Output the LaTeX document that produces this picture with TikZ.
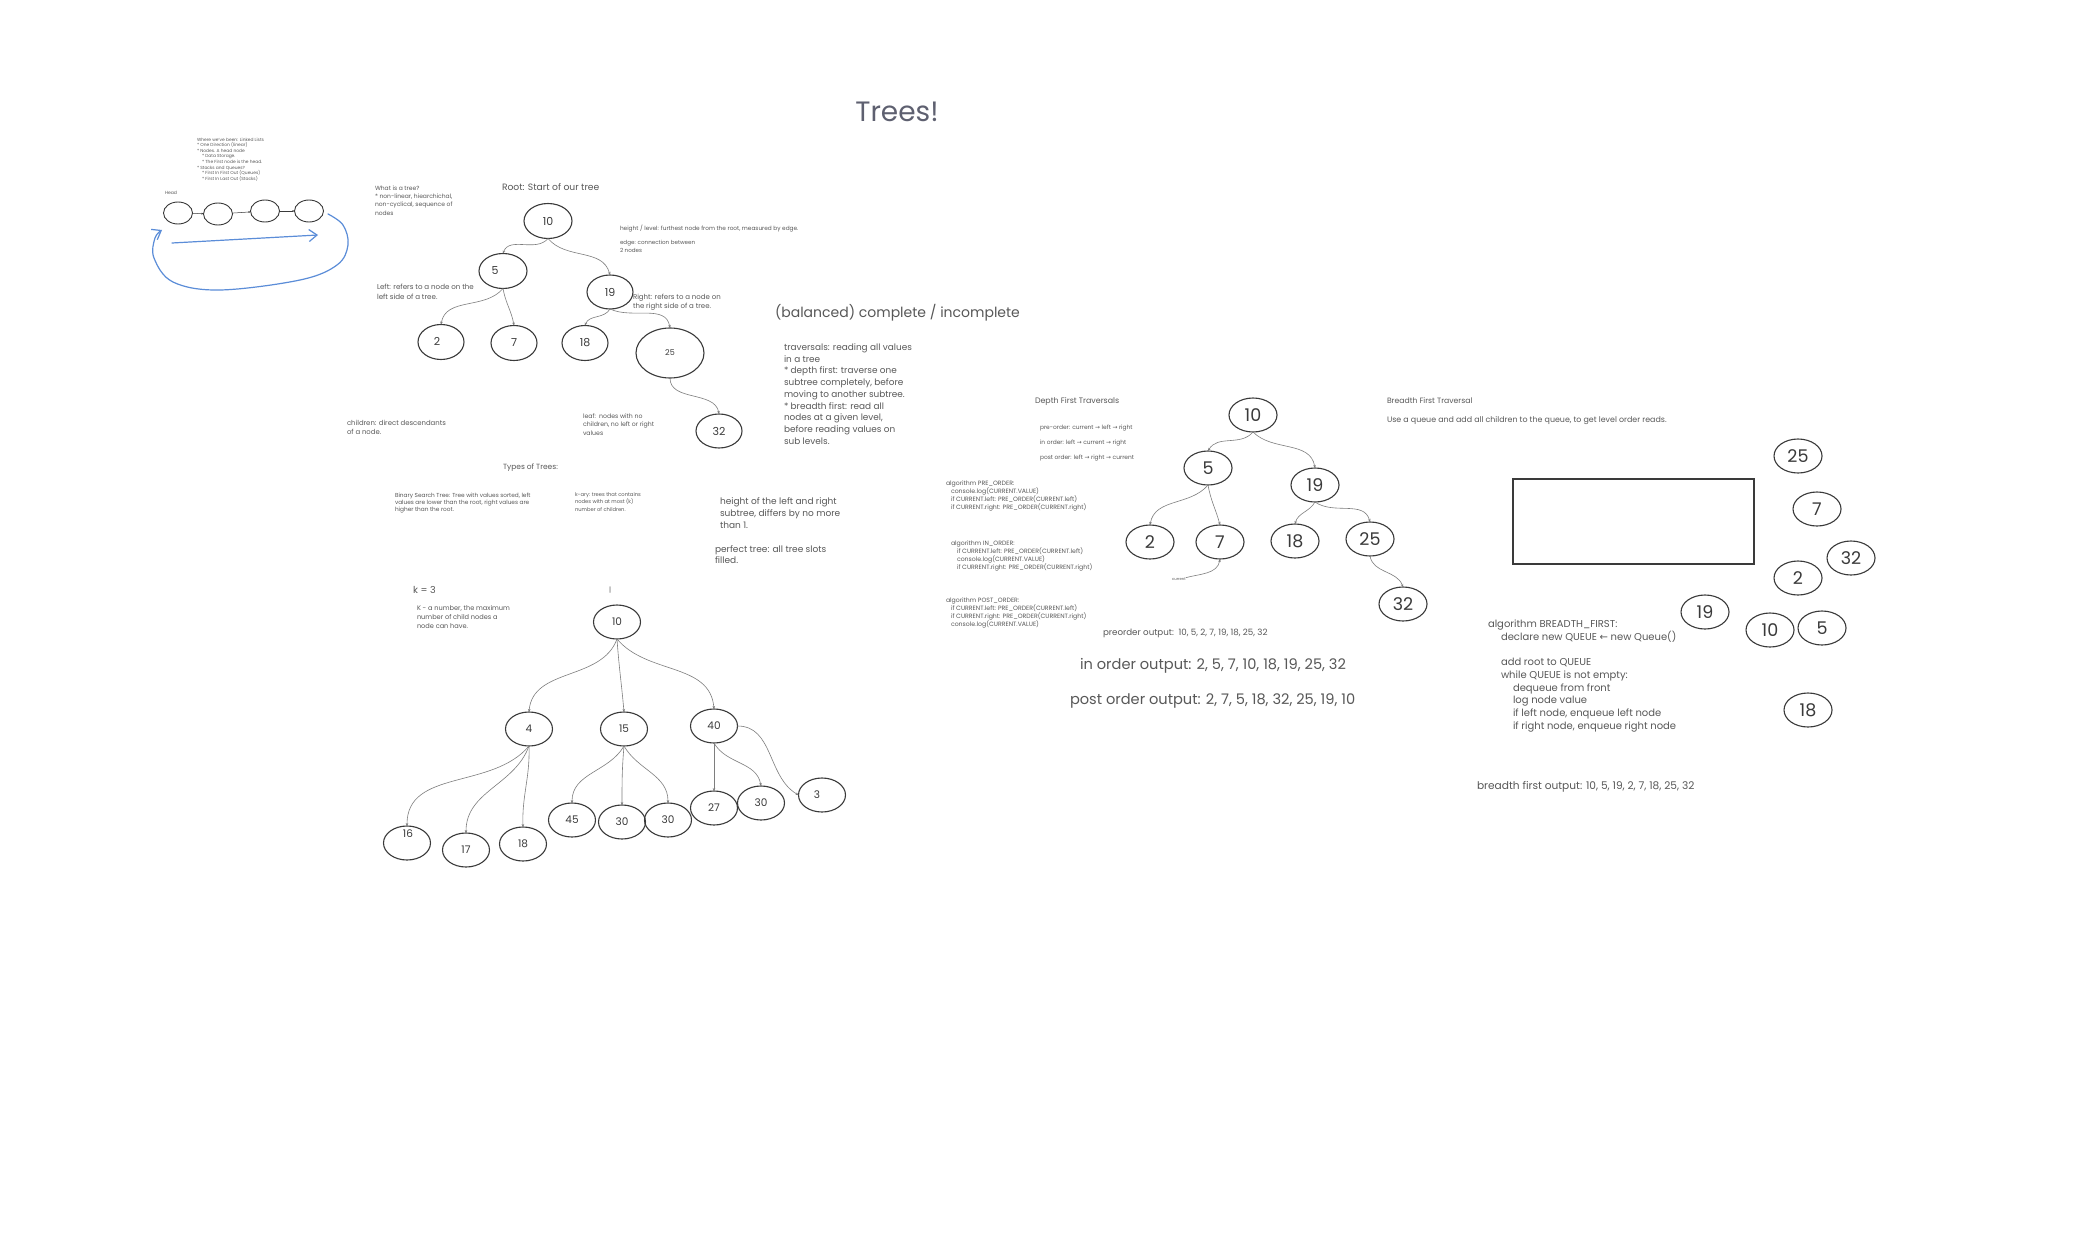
\documentclass[tikz,border=0pt]{standalone}
\usepackage{fontspec}
\setmainfont{Poppins}
\newfontfamily\arrowfont{DejaVu Sans}
\usetikzlibrary{arrows.meta,shapes.geometric}
\definecolor{ink}{HTML}{585858}
\definecolor{headline}{HTML}{5E6070}
\definecolor{rim}{HTML}{3A3A3A}
\definecolor{wire}{HTML}{7E7E7E}
\definecolor{pen}{HTML}{5B8DD8}
\newcommand{\fsz}[2]{\fontsize{#1}{#2}\selectfont}
\newcommand{\ra}{{\arrowfont →}}
\newcommand{\la}{{\arrowfont ←}}
\newcommand{\ind}[1]{\hspace*{#1pt}}
\begin{document}
\begin{tikzpicture}[x=1pt,y=-1pt,
  every node/.style={inner sep=0pt,outer sep=0pt},
  note/.style={anchor=west,align=left,text=ink},
  digit/.style={text=rim},
  bubble/.style={ellipse,draw=rim,line width=1.1pt,minimum width=48pt,minimum height=35pt,text=rim},
  small bubble/.style={bubble,font=\fsz{11}{13}},
  kary bubble/.style={bubble,minimum width=47pt,minimum height=34pt,font=\fsz{10.5}{12}},
  big bubble/.style={bubble,minimum width=48pt,minimum height=34pt,font=\fsz{17.5}{19}},
  cell/.style={ellipse,draw=rim,line width=0.9pt,minimum width=29pt,minimum height=22pt},
  link/.style={draw=rim,line width=0.5pt,-{Latex[length=2pt,width=2pt]}},
  edge/.style={draw=wire,line width=0.6pt,-{Stealth[length=3pt,width=2.6pt]}},
  pen stroke/.style={draw=pen,line width=1.2pt,line cap=round,line join=round,-{Straight Barb[length=8pt,width=12pt]}}
]
\useasboundingbox[fill=white] (0,0) rectangle (2095,1252);

% ---------- title ----------
\node[text=headline,font=\fsz{28}{32}] (title) at (897,112) {Trees!};

% ---------- linked lists recap ----------
\node[note,font=\fsz{4.4}{5.57}] (llnotes) at (197,159.5) {Where we've been: Linked Lists\\* One Direction (linear)\\* Nodes. A head node\\\ind{5}* Data Storage.\\\ind{5}* The First node is the head.\\* Stacks and Queues?\\\ind{5}* First In First Out (Queues)\\\ind{5}* First In Last Out (Stacks)};
\node[note,font=\fsz{4.5}{5.5}] (head) at (165,193) {Head};
\node[cell] (ll1) at (178,213) {};
\node[cell] (ll2) at (218,214) {};
\node[cell] (ll3) at (265,211) {};
\node[cell] (ll4) at (309,211) {};
\draw[link] (ll1) -- (ll2);
\draw[link] (ll2) -- (ll3);
\draw[link] (ll3) -- (ll4);
\coordinate (sweep start) at (172,243);
\coordinate (sweep end) at (318,235);
\draw[pen stroke] (sweep start) -- (sweep end);
\coordinate (loop start) at (328,214);
\coordinate (loop end) at (162,230);
\draw[pen stroke] plot[smooth,tension=0.6] coordinates {(loop start) (343,225) (348,245) (337,265) (300,280) (220,290) (173,282) (154,258) (155,238) (loop end)};

% ---------- first tree ----------
\node[note,font=\fsz{6}{8.3}] (whatis) at (375,200.5) {What is a tree?\\* non-linear, hiearchichal,\\non-cyclical, sequence of\\nodes};
\node[note,font=\fsz{9.2}{10}] (rootlbl) at (502,187) {Root: Start of our tree};
\node[small bubble] (t10) at (548,221) {10};
\node[small bubble] (t5) at (503,271) {};
\node[digit,font=\fsz{11}{13}] (t5txt) at ([xshift=-8pt]t5.center) {5};
\node[small bubble,minimum width=46pt,minimum height=34pt] (t19) at (610,292) {19};
\node[small bubble,minimum width=46pt] (t2) at (441,342) {};
\node[digit,font=\fsz{11}{13}] (t2txt) at ([xshift=-4pt,yshift=1pt]t2.center) {2};
\node[small bubble,minimum width=46pt] (t7) at (514,343) {7};
\node[small bubble,minimum width=46pt] (t18) at (585,343) {18};
\node[bubble,minimum width=68pt,minimum height=50pt,font=\fsz{8}{10}] (t25) at (670,353) {25};
\node[small bubble,minimum width=46pt,minimum height=34pt] (t32) at (719,431) {32};
\draw[edge] (t10.south) to[out=-130,in=70] (t5.north);
\draw[edge] (t10.south) to[out=-50,in=105] (t19.north);
\draw[edge] (t5.south) to[out=-130,in=80] (t2.north);
\draw[edge] (t5.south) to[out=-80,in=100] (t7.north);
\draw[edge] (t19.south) to[out=-120,in=70] (t18.north);
\draw[edge] (t19.south) to[out=-25,in=100] (t25.north);
\draw[edge] (t25.south) to[out=-90,in=100] (t32.north);

\node[note,font=\fsz{5.8}{6}] (heightlbl) at (620,229) {height / level: furthest node from the root, measured by edge.};
\node[note,font=\fsz{5.6}{7.3}] (edgelbl) at (620,246.5) {edge: connection between\\2 nodes};
\node[note,font=\fsz{7.1}{9.5}] (leftlbl) at (377,292) {Left: refers to a node on the\\left side of a tree.};
\node[note,font=\fsz{7}{9}] (rightlbl) at (633,302.5) {Right: refers to a node on\\the right side of a tree.};
\node[note,font=\fsz{6.9}{8.5}] (childlbl) at (347,427.5) {children: direct descendants\\of a node.};
\node[note,font=\fsz{6.2}{8.5}] (leaflbl) at (583,424.5) {leaf:\ \ nodes with no\\children, no left or right\\values};
\node[note,font=\fsz{14}{16}] (balanced) at (775,313) {(balanced) complete / incomplete};
\node[note,font=\fsz{8.9}{11.7}] (travlbl) at (784,394) {traversals: reading all values\\in a tree\\* depth first: traverse one\\subtree completely, before\\moving to another subtree.\\* breadth first: read all\\nodes at a given level,\\before reading values on\\sub levels.};

% ---------- types of trees ----------
\node[note,font=\fsz{7.5}{8}] (typeslbl) at (503,468) {Types of Trees:};
\node[note,font=\fsz{5.8}{7.3}] (bstlbl) at (395,503) {Binary Search Tree: Tree with values sorted, left\\values are lower than the root, right values are\\higher than the root.};
\node[note,font=\fsz{5.2}{7.8}] (karylbl) at (575,502) {k-ary: trees that contains\\nodes with at most (k)\\number of children.};
\node[note,font=\fsz{9}{12}] (heightdiff) at (720,513.5) {height of the left and right\\subtree, differs by no more\\than 1.};
\node[note,font=\fsz{9}{11}] (perfect) at (715,554.5) {perfect tree: all tree slots\\filled.};

% ---------- k-ary tree ----------
\node[note,font=\fsz{9.6}{10}] (klbl) at (413,590) {k = 3};
\node[note,font=\fsz{7}{8}] (cursor) at (609,590) {|};
\node[note,font=\fsz{6.6}{8.7}] (kdef) at (417,617) {K - a number, the maximum\\number of child nodes a\\node can have.};
\node[kary bubble] (k10) at (617,622) {10};
\node[kary bubble] (k4) at (529,729) {4};
\node[kary bubble] (k15) at (624,729) {15};
\node[kary bubble] (k40) at (714,726) {40};
\node[kary bubble] (k16) at (407,843) {};
\node[digit,font=\fsz{10.5}{12}] (k16txt) at ([xshift=1pt,yshift=9pt]k16.center) {16};
\node[kary bubble] (k17) at (466,850) {17};
\node[kary bubble] (k18) at (523,844) {18};
\node[kary bubble] (k45) at (572,820) {45};
\node[kary bubble] (k30a) at (622,822) {30};
\node[kary bubble] (k30b) at (668,820) {30};
\node[kary bubble] (k27) at (714,808) {27};
\node[kary bubble] (k30c) at (761,803) {30};
\node[kary bubble] (k3) at (822,795) {};
\node[digit,font=\fsz{10.5}{12}] (k3txt) at ([xshift=-5pt]k3.center) {3};
\draw[edge] (k10.south) to[out=-110,in=85] (k4.north);
\draw[edge] (k10.south) to[out=-86,in=95] (k15.north);
\draw[edge] (k10.south) to[out=-50,in=95] (k40.north);
\draw[edge] (k4.south) to[out=-130,in=90] (k16.north);
\draw[edge] (k4.south) to[out=-110,in=90] (k17.north);
\draw[edge] (k4.south) to[out=-88,in=92] (k18.north);
\draw[edge] (k15.south) to[out=-120,in=90] (k45.north);
\draw[edge] (k15.south) to[out=-95,in=90] (k30a.north);
\draw[edge] (k15.south) to[out=-60,in=90] (k30b.north);
\draw[edge] (k40.south) to[out=-90,in=90] (k27.north);
\draw[edge] (k40.south) to[out=-60,in=100] (k30c.north);
\draw[edge] (k40.east) to[out=0,in=150] (k3.west);

% ---------- depth first ----------
\node[note,font=\fsz{7.9}{8}] (dftitle) at (1035,402) {Depth First Traversals};
\node[note,font=\fsz{5.9}{15}] (orders) at (1040,443) {pre-order: current \ra{} left \ra{} right\\in order: left \ra{} current \ra{} right\\post order: left \ra{} right \ra{} current};
\node[note,font=\fsz{6.2}{7.8}] (preorder) at (946,496) {algorithm PRE\_ORDER:\\\ind{5}console.log(CURRENT.VALUE)\\\ind{5}if CURRENT.left: PRE\_ORDER(CURRENT.left)\\\ind{5}if CURRENT.right: PRE\_ORDER(CURRENT.right)};
\node[note,font=\fsz{6.2}{7.8}] (inorder) at (951,556) {algorithm IN\_ORDER:\\\ind{6}if CURRENT.left: PRE\_ORDER(CURRENT.left)\\\ind{6}console.log(CURRENT.VALUE)\\\ind{6}if CURRENT.right: PRE\_ORDER(CURRENT.right)};
\node[note,font=\fsz{6.2}{7.7}] (postorder) at (946,613) {algorithm POST\_ORDER:\\\ind{5}if CURRENT.left: PRE\_ORDER(CURRENT.left)\\\ind{5}if CURRENT.right: PRE\_ORDER(CURRENT.right)\\\ind{5}console.log(CURRENT.VALUE)};
\node[note,font=\fsz{8.7}{9}] (preout) at (1103,633) {preorder output:\ \ 10, 5, 2, 7, 19, 18, 25, 32};
\node[note,font=\fsz{14.6}{16}] (inout) at (1080,666) {in order output: 2, 5, 7, 10, 18, 19, 25, 32};
\node[note,font=\fsz{14.6}{16}] (postout) at (1070,701) {post order output: 2, 7, 5, 18, 32, 25, 19, 10};

\node[big bubble] (d10) at (1253,415) {10};
\node[big bubble] (d5) at (1208,468) {5};
\node[big bubble] (d19) at (1315,485) {19};
\node[big bubble] (d2) at (1150,542) {2};
\node[big bubble] (d7) at (1220,542) {7};
\node[big bubble] (d18) at (1295,541) {18};
\node[big bubble] (d25) at (1370,539) {25};
\node[big bubble] (d32) at (1403,604) {32};
\draw[edge] (d10.south) to[out=-130,in=60] (d5.north);
\draw[edge] (d10.south) to[out=-45,in=100] (d19.north);
\draw[edge] (d5.south) to[out=-130,in=80] (d2.north);
\draw[edge] (d5.south) to[out=-80,in=105] (d7.north);
\draw[edge] (d19.south) to[out=-120,in=75] (d18.north);
\draw[edge] (d19.south) to[out=-35,in=105] (d25.north);
\draw[edge] (d25.south) to[out=-80,in=110] (d32.north);
\node[note,font=\fsz{3.8}{4}] (current) at (1172,579) {current};
\draw[edge] (current.north east) to[out=15,in=-100] (d7.south);

% ---------- breadth first ----------
\node[note,font=\fsz{7.7}{8}] (bftitle) at (1387,401) {Breadth First Traversal};
\node[note,font=\fsz{7.9}{8}] (bfnote) at (1387,421) {Use a queue and add all children to the queue, to get level order reads.};
\node[draw=rim,line width=1.1pt,minimum width=241pt,minimum height=85pt] (queue) at (1633.5,521.5) {};
\node[big bubble] (q25) at (1798,456) {25};
\node[big bubble] (q7) at (1817,509) {7};
\node[big bubble] (q32) at (1851,558) {32};
\node[big bubble] (q2) at (1798,578) {2};
\node[big bubble] (q19) at (1705,612) {19};
\node[big bubble] (q10) at (1770,630) {10};
\node[big bubble] (q5) at (1822,628) {5};
\node[big bubble] (q18) at (1808,710) {18};
\node[note,font=\fsz{10}{12.7}] (bfalgo) at (1488,676) {algorithm BREADTH\_FIRST:\\\ind{13}declare new QUEUE \la{} new Queue()\\[0pt]\mbox{}\\\ind{13}add root to QUEUE\\\ind{13}while QUEUE is not empty:\\\ind{25}dequeue from front\\\ind{25}log node value\\\ind{25}if left node, enqueue left node\\\ind{25}if right node, enqueue right node};
\node[note,font=\fsz{10.6}{11}] (bfout) at (1477,787) {breadth first output: 10, 5, 19, 2, 7, 18, 25, 32};
\end{tikzpicture}
\end{document}
